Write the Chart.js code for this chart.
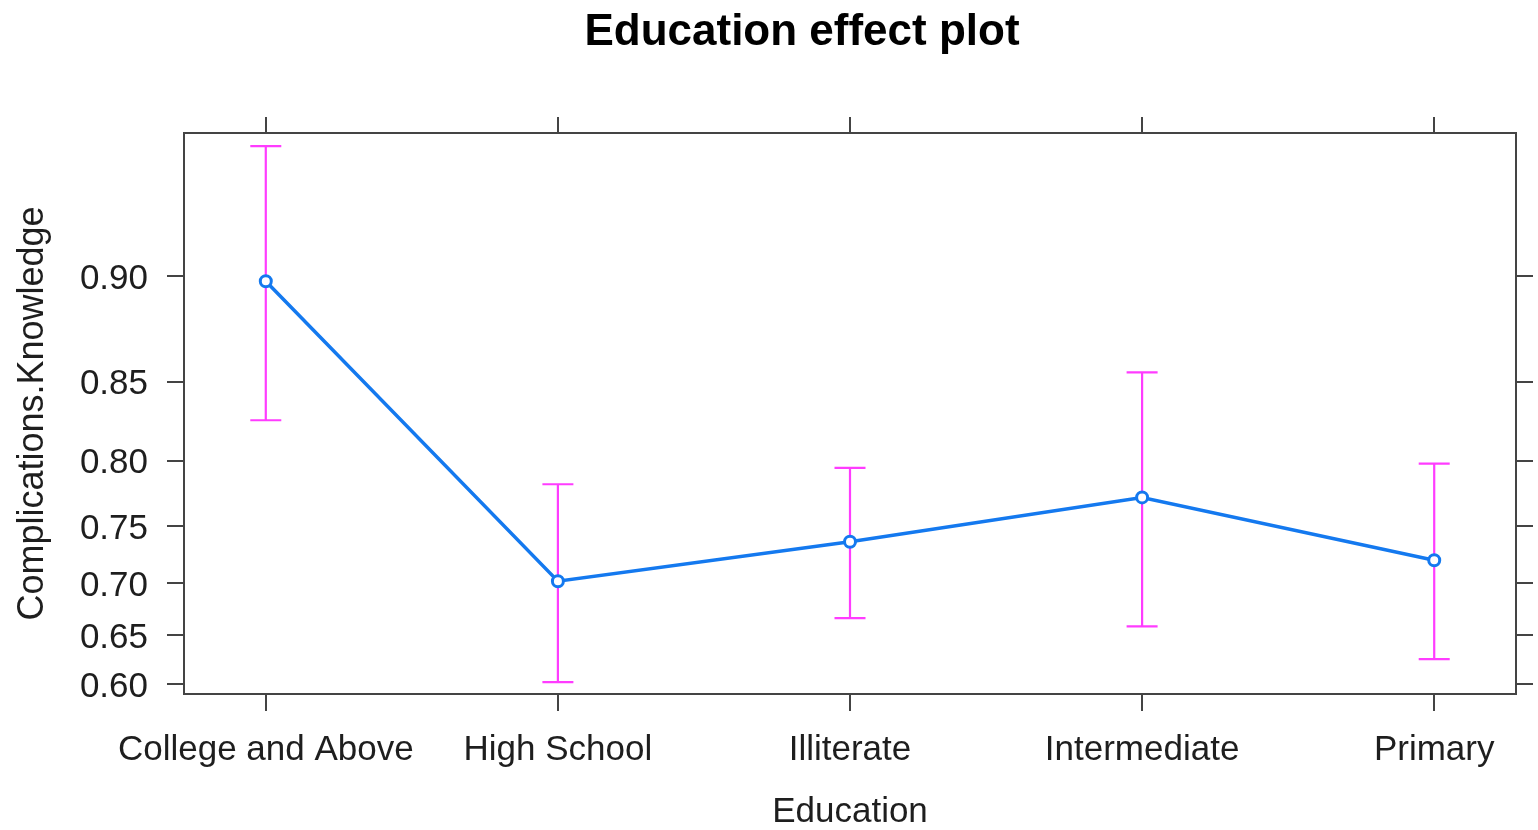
<!DOCTYPE html>
<html>
<head>
<meta charset="utf-8">
<script src="https://cdn.jsdelivr.net/npm/chart.js@4/dist/chart.umd.min.js"></script>
<style>
  html, body { margin: 0; padding: 0; background: #ffffff; }
  #wrap { width: 1538px; height: 830px; }
</style>
</head>
<body>
<div id="wrap"><canvas id="c" width="1538" height="830"></canvas></div>
<script>
// Effect estimates with 95% confidence limits, on the probability scale
const categories = ['College and Above', 'High School', 'Illiterate', 'Intermediate', 'Primary'];
const fitValues   = [0.898, 0.702, 0.737, 0.773, 0.721];
const lowerValues = [0.827, 0.602, 0.667, 0.659, 0.626];
const upperValues = [0.941, 0.783, 0.795, 0.855, 0.798];
const yTickValues = [0.60, 0.65, 0.70, 0.75, 0.80, 0.85, 0.90];
const yLimits = [0.5894, 0.9441];

const FONT = '"Liberation Sans", Arial, Helvetica, sans-serif';
const AXIS_COLOR = '#444444';
const TEXT_COLOR = '#1e1e1e';

const logit = p => Math.log(p / (1 - p));
const invLogit = t => 1 / (1 + Math.exp(-t));

// Vertical axis spaced on the logit scale, labelled in probabilities
class LogitScale extends Chart.LinearScale {
  determineDataLimits() {
    this.min = this.options.min;
    this.max = this.options.max;
  }
  configure() {
    super.configure();
    this._lo = logit(this.min);
    this._hi = logit(this.max);
  }
  getPixelForValue(value) {
    return this.getPixelForDecimal((logit(value) - this._lo) / (this._hi - this._lo));
  }
  getValueForPixel(pixel) {
    return invLogit(this._lo + this.getDecimalForPixel(pixel) * (this._hi - this._lo));
  }
}
LogitScale.id = 'logit';
LogitScale.defaults = {};
Chart.register(LogitScale);

// Confidence intervals drawn under the line
const errorBars = {
  id: 'errorBars',
  beforeDatasetsDraw(chart) {
    const { ctx, scales: { x, y } } = chart;
    const cap = 15.5;
    ctx.save();
    ctx.strokeStyle = '#ff3cff';
    ctx.lineWidth = 2.2;
    categories.forEach((c, i) => {
      const px = x.getPixelForValue(i);
      const lo = y.getPixelForValue(lowerValues[i]);
      const hi = y.getPixelForValue(upperValues[i]);
      ctx.beginPath();
      ctx.moveTo(px, lo); ctx.lineTo(px, hi);
      ctx.moveTo(px - cap, lo); ctx.lineTo(px + cap, lo);
      ctx.moveTo(px - cap, hi); ctx.lineTo(px + cap, hi);
      ctx.stroke();
    });
    ctx.restore();
  }
};

// Box around the panel with tick marks repeated on the top and right sides
const panelFrame = {
  id: 'panelFrame',
  afterDraw(chart) {
    const { ctx, chartArea: a, scales: { x, y } } = chart;
    ctx.save();
    ctx.strokeStyle = AXIS_COLOR;
    ctx.lineWidth = 2;
    ctx.strokeRect(a.left, a.top, a.right - a.left, a.bottom - a.top);
    ctx.beginPath();
    x.ticks.forEach(t => {
      const px = Math.round(x.getPixelForValue(t.value));
      ctx.moveTo(px, a.top); ctx.lineTo(px, a.top - 16);
    });
    y.ticks.forEach(t => {
      const py = Math.round(y.getPixelForValue(t.value));
      ctx.moveTo(a.right, py); ctx.lineTo(a.right + 17, py);
    });
    ctx.stroke();
    ctx.restore();
  }
};

const whiteBackground = {
  id: 'whiteBackground',
  beforeDraw(chart) {
    const { ctx } = chart;
    ctx.save();
    ctx.fillStyle = '#ffffff';
    ctx.fillRect(0, 0, chart.width, chart.height);
    ctx.restore();
  }
};

new Chart(document.getElementById('c'), {
  type: 'line',
  data: {
    datasets: [{
      xAxisID: 'x',
      yAxisID: 'y',
      data: fitValues.map((v, i) => ({ x: i, y: v })),
      borderColor: '#1479ef',
      borderWidth: 3.5,
      pointRadius: 5.5,
      pointBorderWidth: 3,
      pointBackgroundColor: '#ffffff',
      pointBorderColor: '#1479ef',
      tension: 0,
      fill: false
    }]
  },
  options: {
    responsive: false,
    devicePixelRatio: 1,
    animation: false,
    layout: { padding: { top: 0, left: 66, right: 0, bottom: 0 } },
    plugins: {
      legend: { display: false },
      tooltip: { enabled: false },
      title: {
        display: true,
        text: 'Education effect plot',
        color: '#000000',
        font: { family: FONT, size: 44, weight: 'bold', lineHeight: 1.2 },
        padding: { top: 6.6, bottom: 73.6 }
      }
    },
    scales: {
      x: {
        type: 'linear',
        position: 'bottom',
        min: -0.28,
        max: 4.28,
        afterBuildTicks: s => { s.ticks = categories.map((c, i) => ({ value: i })); },
        afterFit: s => { s.height = 136; },
        grid: { display: true, drawOnChartArea: false, drawTicks: true, tickLength: 17, color: AXIS_COLOR, lineWidth: 2 },
        border: { display: true, color: AXIS_COLOR, width: 2 },
        ticks: {
          autoSkip: false,
          maxRotation: 0,
          minRotation: 0,
          padding: 18,
          color: TEXT_COLOR,
          font: { family: FONT, size: 35, lineHeight: 1.2 },
          callback: v => categories[v]
        },
        title: {
          display: true,
          text: 'Education',
          color: TEXT_COLOR,
          font: { family: FONT, size: 35, lineHeight: 1 },
          padding: { top: 0, bottom: 0 }
        }
      },
      y: {
        type: 'logit',
        position: 'left',
        min: yLimits[0],
        max: yLimits[1],
        afterBuildTicks: s => { s.ticks = yTickValues.map(v => ({ value: v })); },
        afterFit: s => { s.width = 118; },
        grid: { display: true, drawOnChartArea: false, drawTicks: true, tickLength: 17, color: AXIS_COLOR, lineWidth: 2 },
        border: { display: true, color: AXIS_COLOR, width: 2 },
        ticks: {
          autoSkip: false,
          padding: 19,
          labelOffset: 3,
          color: TEXT_COLOR,
          font: { family: FONT, size: 35, lineHeight: 1.2 },
          callback: v => Number(v).toFixed(2)
        },
        title: {
          display: true,
          text: 'Complications.Knowledge',
          color: TEXT_COLOR,
          font: { family: FONT, size: 36, lineHeight: 1 },
          padding: { top: -51, bottom: 0 }
        }
      },
      // empty margin on the right that holds the mirrored tick marks
      yRight: {
        type: 'linear',
        position: 'right',
        display: true,
        afterFit: s => { s.width = 22; },
        grid: { display: false },
        border: { display: false },
        ticks: { display: false }
      }
    }
  },
  plugins: [whiteBackground, errorBars, panelFrame]
});
</script>
</body>
</html>
